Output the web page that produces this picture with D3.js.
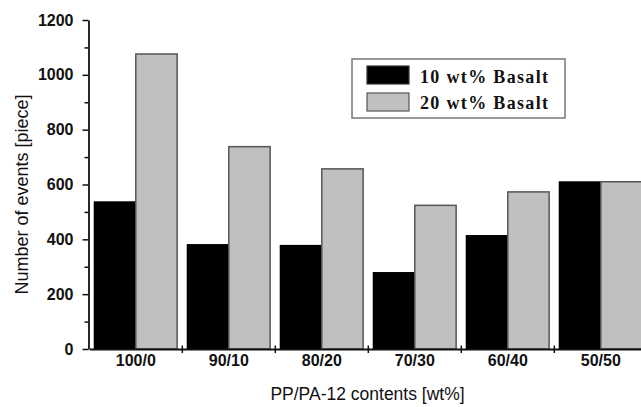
<!DOCTYPE html>
<html>
<head>
<meta charset="utf-8">
<script src="https://cdn.jsdelivr.net/npm/d3@7"></script>
<style>
  body { margin: 0; background: #fff; }
</style>
</head>
<body>
<div id="chart"></div>
<script>
var width = 641;
var height = 407;

var categories = ["100/0", "90/10", "80/20", "70/30", "60/40", "50/50"];
var basalt10 = [536, 380, 377, 278, 413, 609];
var basalt20 = [1076, 738, 657, 524, 573, 610];
var seriesNames = ["10 wt% Basalt", "20 wt% Basalt"];
var yTicks = [0, 200, 400, 600, 800, 1000, 1200];

var colors = ["#000000", "#c0c0c0"];

var svg = d3.select("#chart")
            .append("svg")
            .attr("width", width)
            .attr("height", height);

var xScale = d3.scaleBand()
            .domain(categories)
            .range([89.3, 647.3])
            .padding(0);

var yScale = d3.scaleLinear()
            .domain([0, 1200])
            .range([349, 20]);

var sub = d3.scaleBand()
            .domain([0, 1])
            .range([0, xScale.bandwidth()])
            .paddingOuter(0.125)
            .paddingInner(0);

// bars
var series = [basalt10, basalt20];
series.forEach(function(vals, s) {
    svg.append("g")
        .selectAll("rect")
        .data(vals)
        .enter()
        .append("rect")
        .attr("x", function(d, i) { return xScale(categories[i]) + sub(s); })
        .attr("y", function(d) { return yScale(d); })
        .attr("width", sub.bandwidth())
        .attr("height", function(d) { return yScale(0) - yScale(d); })
        .style("fill", colors[s])
        .style("stroke", s == 0 ? "#000" : "#555")
        .style("stroke-width", 1.5);
});

// y axis: major ticks with labels
var yAxis = svg.append("g")
    .attr("transform", "translate(88.5,0)")
    .call(d3.axisLeft(yScale).tickValues(yTicks).tickFormat(d3.format("d"))
        .tickSize(6).tickPadding(9).tickSizeOuter(0));

// minor ticks
svg.append("g")
    .attr("transform", "translate(88.5,0)")
    .call(d3.axisLeft(yScale).tickValues(d3.range(100, 1200, 200)).tickSize(4).tickFormat("").tickSizeOuter(0))
    .select(".domain").remove();

yAxis.selectAll("text")
    .style("font-family", "Liberation Sans, Arial, sans-serif")
    .style("font-weight", "bold")
    .style("font-size", "16px")
    .style("fill", "#111");

// x axis
var xAxis = svg.append("g")
    .attr("transform", "translate(0,349)")
    .call(d3.axisBottom(xScale).tickSize(0).tickPadding(6).tickSizeOuter(0));

xAxis.selectAll("text")
    .style("font-family", "Liberation Sans, Arial, sans-serif")
    .style("font-weight", "bold")
    .style("font-size", "16px")
    .style("fill", "#111");

// x ticks between categories, crossing the axis
svg.append("g")
    .selectAll("line")
    .data(categories.slice(1))
    .enter()
    .append("line")
    .attr("x1", function(d) { return xScale(d); })
    .attr("x2", function(d) { return xScale(d); })
    .attr("y1", 345.5)
    .attr("y2", 353)
    .style("stroke", "#111")
    .style("stroke-width", 1.5);

svg.selectAll(".domain").style("stroke", "#111").style("stroke-width", 1.8);
svg.selectAll(".tick line").style("stroke", "#111").style("stroke-width", 1.5);

// axis titles
svg.append("text")
    .attr("x", 367.5).attr("y", 400)
    .attr("text-anchor", "middle")
    .style("font-family", "Liberation Sans, Arial, sans-serif")
    .style("font-size", "17.5px")
    .style("fill", "#111")
    .text("PP/PA-12 contents [wt%]");

svg.append("text")
    .attr("transform", "translate(27.5,194.5) rotate(-90)")
    .attr("text-anchor", "middle")
    .style("font-family", "Liberation Sans, Arial, sans-serif")
    .style("font-size", "18px")
    .style("fill", "#111")
    .text("Number of events [piece]");

// Handmade legend
svg.append("rect").attr("x", 352).attr("y", 59).attr("width", 213).attr("height", 59)
    .style("fill", "#fff").style("stroke", "#777").style("stroke-width", 1.5);
svg.append("rect").attr("x", 367).attr("y", 66).attr("width", 42).attr("height", 18)
    .style("fill", colors[0]).style("stroke", "#333").style("stroke-width", 1.2);
svg.append("rect").attr("x", 367).attr("y", 93).attr("width", 42).attr("height", 18)
    .style("fill", colors[1]).style("stroke", "#555").style("stroke-width", 1.2);
svg.append("text").attr("x", 420).attr("y", 82.5).text(seriesNames[0])
    .style("font-family", "Liberation Serif, Times New Roman, serif").style("font-weight", "bold")
    .style("font-size", "18px").attr("textLength", 128).style("fill", "#111");
svg.append("text").attr("x", 420).attr("y", 109).text(seriesNames[1])
    .style("font-family", "Liberation Serif, Times New Roman, serif").style("font-weight", "bold")
    .style("font-size", "18px").attr("textLength", 128).style("fill", "#111");
</script>
</body>
</html>
